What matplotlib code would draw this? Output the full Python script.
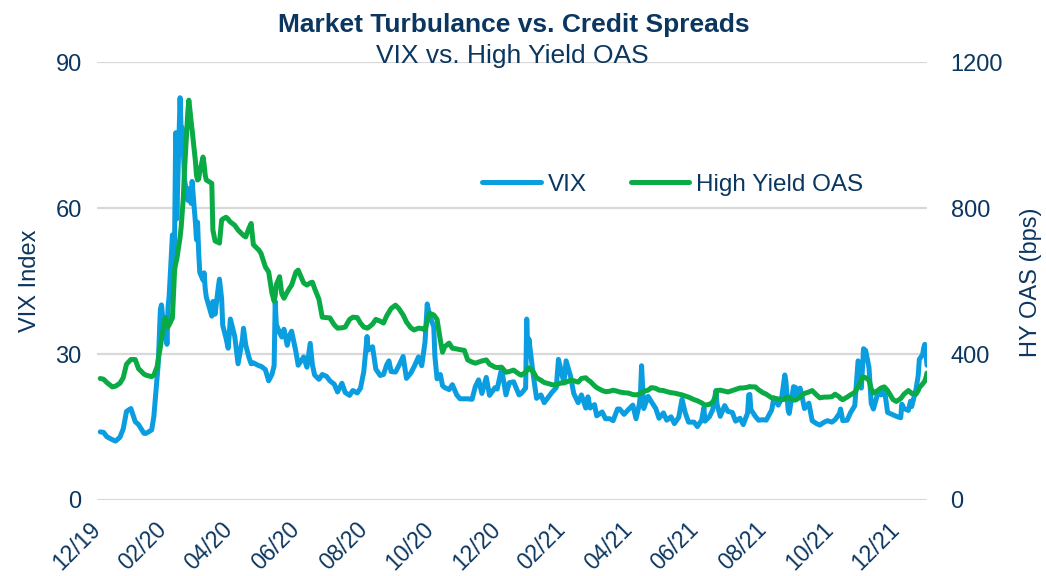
import matplotlib
matplotlib.use("Agg")
import matplotlib.pyplot as plt
import matplotlib.transforms as mtransforms
import pandas as pd

plt.rcParams['font.family'] = ['Liberation Sans', 'DejaVu Sans']

# Data (VIX close, HY OAS in bps)
dates = [
    "2020-01-03", "2020-01-06", "2020-01-09", "2020-01-14", "2020-01-17", "2020-01-21", "2020-01-24", "2020-01-27", "2020-01-31",
    "2020-02-04", "2020-02-07", "2020-02-12", "2020-02-14", "2020-02-19", "2020-02-21", "2020-02-24", "2020-02-25", "2020-02-27", "2020-02-28",
    "2020-03-02", "2020-03-03", "2020-03-04", "2020-03-05", "2020-03-06", "2020-03-09", "2020-03-10", "2020-03-11", "2020-03-12", "2020-03-13",
    "2020-03-16", "2020-03-17", "2020-03-18", "2020-03-19", "2020-03-20", "2020-03-23", "2020-03-24", "2020-03-25", "2020-03-26", "2020-03-27",
    "2020-03-30", "2020-03-31",
    "2020-04-01", "2020-04-02", "2020-04-03", "2020-04-06", "2020-04-07", "2020-04-08", "2020-04-09", "2020-04-14", "2020-04-15", "2020-04-17",
    "2020-04-20", "2020-04-21", "2020-04-23", "2020-04-24", "2020-04-27", "2020-04-29", "2020-04-30",
    "2020-05-01", "2020-05-05", "2020-05-08", "2020-05-12", "2020-05-13", "2020-05-15", "2020-05-18", "2020-05-20", "2020-05-22", "2020-05-27", "2020-05-29",
    "2020-06-02", "2020-06-05", "2020-06-08", "2020-06-10", "2020-06-11", "2020-06-12", "2020-06-15", "2020-06-17", "2020-06-19", "2020-06-22",
    "2020-06-24", "2020-06-26", "2020-06-30",
    "2020-07-02", "2020-07-07", "2020-07-10", "2020-07-13", "2020-07-15", "2020-07-17", "2020-07-21", "2020-07-24", "2020-07-28", "2020-07-31",
    "2020-08-04", "2020-08-07", "2020-08-11", "2020-08-14", "2020-08-18", "2020-08-21", "2020-08-25", "2020-08-28", "2020-08-31",
    "2020-09-03", "2020-09-04", "2020-09-08", "2020-09-11", "2020-09-15", "2020-09-18", "2020-09-21", "2020-09-23", "2020-09-25", "2020-09-29",
    "2020-10-02", "2020-10-06", "2020-10-09", "2020-10-13", "2020-10-16", "2020-10-20", "2020-10-23", "2020-10-26", "2020-10-28", "2020-10-30",
    "2020-11-03", "2020-11-04", "2020-11-06", "2020-11-09", "2020-11-11", "2020-11-13", "2020-11-17", "2020-11-20", "2020-11-24", "2020-11-27",
    "2020-12-01", "2020-12-04", "2020-12-08", "2020-12-11", "2020-12-14", "2020-12-17", "2020-12-21", "2020-12-24", "2020-12-29", "2020-12-31",
    "2021-01-04", "2021-01-08", "2021-01-11", "2021-01-15", "2021-01-20", "2021-01-22", "2021-01-26", "2021-01-27", "2021-01-28", "2021-01-29",
    "2021-02-02", "2021-02-05", "2021-02-09", "2021-02-12", "2021-02-17", "2021-02-19", "2021-02-23", "2021-02-25", "2021-02-26",
    "2021-03-02", "2021-03-04", "2021-03-08", "2021-03-11", "2021-03-15", "2021-03-18", "2021-03-22", "2021-03-24", "2021-03-26", "2021-03-30",
    "2021-04-01", "2021-04-06", "2021-04-09", "2021-04-13", "2021-04-16", "2021-04-20", "2021-04-22", "2021-04-26", "2021-04-30",
    "2021-05-04", "2021-05-07", "2021-05-10", "2021-05-11", "2021-05-12", "2021-05-13", "2021-05-14", "2021-05-18", "2021-05-21", "2021-05-25", "2021-05-28",
    "2021-06-01", "2021-06-04", "2021-06-08", "2021-06-11", "2021-06-15", "2021-06-18", "2021-06-21", "2021-06-24", "2021-06-29",
    "2021-07-02", "2021-07-06", "2021-07-08", "2021-07-09", "2021-07-13", "2021-07-16", "2021-07-19", "2021-07-20", "2021-07-23", "2021-07-27", "2021-07-30",
    "2021-08-03", "2021-08-06", "2021-08-10", "2021-08-13", "2021-08-17", "2021-08-18", "2021-08-19", "2021-08-20", "2021-08-24", "2021-08-27", "2021-08-31",
    "2021-09-03", "2021-09-08", "2021-09-10", "2021-09-14", "2021-09-17", "2021-09-20", "2021-09-21", "2021-09-23", "2021-09-24", "2021-09-28", "2021-09-30",
    "2021-10-01", "2021-10-04", "2021-10-06", "2021-10-08", "2021-10-12", "2021-10-15", "2021-10-19", "2021-10-22", "2021-10-26", "2021-10-29",
    "2021-11-02", "2021-11-05", "2021-11-09", "2021-11-10", "2021-11-12", "2021-11-16", "2021-11-19", "2021-11-23", "2021-11-26", "2021-11-29", "2021-11-30",
    "2021-12-01", "2021-12-03", "2021-12-06", "2021-12-08", "2021-12-10", "2021-12-14", "2021-12-17", "2021-12-20", "2021-12-23", "2021-12-28", "2021-12-31",
    "2022-01-04", "2022-01-05", "2022-01-07", "2022-01-11", "2022-01-13", "2022-01-14", "2022-01-18", "2022-01-20", "2022-01-21", "2022-01-24",
    "2022-01-25", "2022-01-26", "2022-01-27", "2022-01-28",
]

vix = [
    14.0, 13.9, 13.0, 12.4, 12.1, 12.9, 14.6, 18.2, 18.8,
    16.1, 15.5, 13.7, 13.7, 14.4, 17.1, 25.0, 27.9, 39.2, 40.1,
    33.4, 36.8, 32.0, 39.6, 41.9, 54.5, 47.3, 53.9, 75.5, 57.8,
    82.7, 75.9, 76.5, 72.0, 66.0, 61.6, 64.0, 64.0, 61.0, 65.5,
    57.1, 53.5,
    57.1, 50.9, 46.8, 45.2, 46.7, 43.4, 41.7, 37.8, 40.8, 38.2,
    43.8, 45.4, 41.4, 35.9, 33.3, 31.2, 34.2,
    37.2, 33.6, 28.0, 33.0, 35.3, 31.9, 29.3, 28.0, 28.2, 27.6, 27.5,
    26.8, 24.5, 25.8, 27.6, 40.8, 36.1, 34.4, 33.5, 35.1, 31.8,
    33.8, 34.7, 30.4,
    27.7, 29.4, 27.3, 32.2, 27.8, 25.7, 24.8, 25.8, 25.4, 24.5,
    23.8, 22.2, 24.0, 22.1, 21.5, 22.5, 22.0, 23.0, 26.4,
    33.6, 30.8, 31.5, 26.9, 25.6, 25.8, 27.8, 28.6, 26.4, 26.3,
    27.6, 29.5, 25.0, 26.1, 27.4, 29.4, 27.6, 32.5, 40.3, 38.0,
    35.6, 29.6, 24.9, 25.8, 23.5, 23.1, 22.7, 23.7, 21.6, 20.8,
    20.8, 20.8, 20.7, 23.3, 24.7, 21.9, 25.2, 21.5, 23.1, 22.8,
    27.0, 21.6, 24.1, 24.3, 21.6, 21.9, 23.0, 37.2, 30.2, 33.1,
    25.6, 20.9, 21.6, 20.0, 21.5, 22.1, 23.1, 28.9, 28.0,
    24.1, 28.6, 25.5, 21.9, 20.0, 21.6, 18.9, 21.2, 18.9, 19.6,
    17.3, 18.1, 16.7, 16.7, 16.3, 18.7, 18.7, 17.6, 18.6,
    19.5, 16.7, 19.7, 21.8, 27.6, 23.1, 18.8, 21.3, 20.2, 18.8, 16.8,
    17.9, 16.4, 17.1, 15.7, 17.0, 20.7, 17.9, 16.0, 16.0,
    15.1, 16.4, 19.0, 16.2, 17.1, 18.5, 22.5, 19.7, 17.2, 19.4, 18.2,
    18.0, 16.2, 16.8, 15.5, 17.9, 21.6, 21.7, 18.6, 17.2, 16.4, 16.5,
    16.4, 18.5, 21.0, 19.5, 20.8, 25.7, 24.4, 18.6, 17.8, 23.3, 23.1,
    21.2, 23.0, 21.0, 18.8, 19.9, 16.3, 15.7, 15.4, 16.0, 16.3,
    16.0, 16.5, 17.8, 18.7, 16.3, 16.4, 17.9, 19.4, 28.6, 23.0, 27.2,
    31.1, 30.7, 27.2, 19.9, 18.7, 21.9, 21.6, 22.9, 18.0, 17.5, 17.2,
    16.9, 19.7, 18.8, 18.4, 20.3, 19.2, 22.8, 25.6, 28.9, 29.9,
    31.2, 32.0, 30.5, 27.7,
]

hy_oas = [
    333, 331, 322, 310, 312, 320, 335, 372, 385,
    385, 360, 345, 342, 338, 342, 365, 385, 420, 440,
    495, 500, 485, 475, 480, 499, 565, 630, 648, 660,
    720, 748, 790, 831, 900, 1060, 1096, 1070, 1040, 1014,
    930, 890,
    877, 880, 900, 940, 920, 890, 877, 868, 740, 710,
    706, 704, 767, 770, 775, 770, 765,
    762, 753, 740, 728, 725, 721, 745, 758, 700, 685, 676,
    639, 625, 567, 545, 560, 590, 612, 565, 553, 570,
    580, 589, 625,
    630, 595, 589, 595, 597, 580, 550, 501, 500, 499,
    480, 471, 472, 474, 495, 501, 500, 485, 474,
    471, 472, 482, 495, 490, 485, 505, 515, 525, 534,
    525, 507, 488, 472, 466, 471, 470, 466, 490, 512,
    507, 503, 495, 438, 405, 420, 430, 416, 414, 412,
    410, 384, 378, 375, 378, 381, 384, 372, 364, 363,
    364, 350, 352, 356, 345, 342, 350, 355, 360, 362,
    351, 335, 328, 322, 318, 316, 315, 318, 320,
    321, 323, 328, 327, 323, 333, 335, 329, 325, 313,
    308, 300, 297, 298, 301, 298, 296, 294, 293,
    289, 288, 290, 292, 295, 297, 298, 301, 308, 306, 301,
    300, 297, 294, 293, 290, 288, 285, 282, 275,
    272, 266, 262, 260, 262, 268, 285, 300, 301, 298, 296,
    300, 303, 307, 307, 309, 310, 311, 310, 310, 302, 294,
    290, 280, 279, 277, 275, 276, 280, 282, 279, 274, 274,
    276, 282, 288, 292, 296, 300, 288, 280, 282, 282,
    283, 290, 282, 278, 275, 282, 288, 295, 310, 328, 337,
    337, 335, 328, 305, 293, 300, 307, 310, 300, 275, 270,
    278, 282, 290, 300, 295, 292, 290, 300, 308, 318,
    322, 326, 335, 348,
]

tick_dates = ["2019-12-31", "2020-02-29", "2020-04-30", "2020-06-30", "2020-08-31", "2020-10-31", "2020-12-31",
              "2021-02-28", "2021-04-30", "2021-06-30", "2021-08-31", "2021-10-31", "2021-12-31"]
tick_labels = ["12/19", "02/20", "04/20", "06/20", "08/20", "10/20", "12/20",
               "02/21", "04/21", "06/21", "08/21", "10/21", "12/21"]

assert len(dates) == len(vix) == len(hy_oas)

navy = "#0b3660"
blue = "#0a9de0"
green = "#0aab45"

d = pd.to_datetime(dates)

fig = plt.figure(figsize=(10.46, 5.76), dpi=100)
ax = fig.add_axes([0.0927, 0.132, 0.7935, 0.760])
ax2 = ax.twinx()

l1, = ax.plot(d, vix, color=blue, lw=3.6, solid_capstyle='round', solid_joinstyle='round', label="VIX")
l2, = ax2.plot(d, hy_oas, color=green, lw=3.6, solid_capstyle='round', solid_joinstyle='round', label="High Yield OAS")

ax.set_xlim(pd.Timestamp("2019-12-31"), pd.Timestamp("2022-01-28"))
ax.set_ylim(0, 90)
ax2.set_ylim(0, 1200)
ax.set_yticks([0, 30, 60, 90])
ax2.set_yticks([0, 400, 800, 1200])

ax.set_xticks(pd.to_datetime(tick_dates))
ax.set_xticklabels(tick_labels, rotation=45, ha='right', va='center', rotation_mode='anchor')
offset = mtransforms.ScaledTranslation(4 / 72, 0, fig.dpi_scale_trans)
for lab in ax.get_xticklabels():
    lab.set_transform(lab.get_transform() + offset)

ax.grid(axis='y', color='#d9d9d9', lw=1.6)
ax.set_axisbelow(True)
for a in (ax, ax2):
    for s in a.spines.values():
        s.set_visible(False)
ax.tick_params(axis='x', length=0, pad=19, labelsize=16.5, labelcolor=navy)
ax.tick_params(axis='y', length=0, pad=11, labelsize=17, labelcolor=navy)
ax2.tick_params(axis='y', length=0, pad=17, labelsize=17, labelcolor=navy)

fig.text(0.029, 0.512, "VIX Index", rotation=90, ha='center', va='center', fontsize=17, color=navy)
fig.text(0.986, 0.51, "HY OAS (bps)", rotation=90, ha='center', va='center', fontsize=17, color=navy)

fig.text(0.491, 0.956, "Market Turbulance vs. Credit Spreads", ha='center', va='center',
         fontsize=19, fontweight='bold', color=navy)
fig.text(0.490, 0.902, "VIX vs. High Yield OAS", ha='center', va='center', fontsize=19, color=navy)

leg = ax2.legend(handles=[l1, l2], loc='center', bbox_to_anchor=(0.694, 0.72), frameon=False,
                 ncol=2, fontsize=17.5, handlelength=2.4, handletextpad=0.3, columnspacing=1.8)
for t in leg.get_texts():
    t.set_color(navy)

fig.savefig("out.png", dpi=100)
